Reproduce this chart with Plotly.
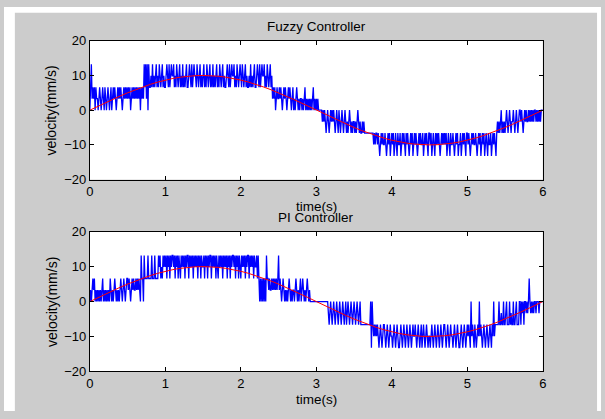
import plotly.graph_objects as go

# ---------------- data ----------------
# time step of the measured (quantised) velocity samples, seconds
SAMPLE_DT = 0.01
# quantisation step of the measured velocity, mm/s
LEVEL_STEP = 3.3
# level codes: '8'=+4 steps ... '4'=0 ... '0'=-4 steps
# each group of 10 codes covers 0.1 s
FUZZY_LEVELS = (
    "4685656465" "5456545654" "6545654564" "5656545656" "5654565656"   # 0.0-0.5
    "5656456565" "6565656465" "6586858486"                              # 0.5-0.8
    "6768676786" "7687678676" "6787686787" "7867687678"                 # 0.8-1.2
    "6768676786" "6787686787" "7687678676" "7867687678"                 # 1.2-1.6
    "6768676786" "7687678676" "6787686787" "7867687678"                 # 1.6-2.0
    "7687678676" "6768676786" "6787686787" "7867687678"                 # 2.0-2.4
    "6756564565" "5656545656" "5456565456" "4545654545"                 # 2.4-2.8
    "5454564545" "4545456454" "5454444434"                              # 2.8-3.1
    "3432343234" "3434323432" "4323432343" "2323432323"                 # 3.1-3.5
    "3232343232" "2323222222" "2222221212"                              # 3.5-3.8
    "2121012121" "1210121201" "2120121021" "1201212102"                 # 3.8-4.2
    "1210121201" "2121012121" "1201212102" "2120121021"                 # 4.2-4.6
    "2121012121" "2120121021" "1210121201" "1201212102"                 # 4.6-5.0
    "2121012121" "1210121201" "2120121021" "1201212102"                 # 5.0-5.4
    "3232342323" "2343234323" "3432343234" "4343234343"                 # 5.4-5.8
    "3434343434" "4343434344" "4"                                       # 5.8-6.0
)
PI_LEVELS = (
    "4545656454" "5454545645" "4545454654" "5456545454" "5654565456"   # 0.0-0.5
    "6565456565" "5656565486" "6486666866" "6686668666" "6878676878"   # 0.5-1.0
    "7868786878" "8786878687" "6878786878" "8687878687"                 # 1.0-1.4
    "8786878687" "7868786878" "8687878687" "6878786878"                 # 1.4-1.8
    "7868786878" "8786878687" "6878786878" "8687878687"                 # 1.8-2.2
    "7868646464" "6464866565" "5656565656" "8565456545"                 # 2.2-2.6
    "4545654545" "5456545456" "4565454565" "4544444444"                 # 2.6-3.0
    "4444444444" "4444443234" "3234323432" "3432343234"                 # 3.0-3.4
    "2343234323" "4323432342" "2222222222" "2240421212"                 # 3.4-3.8
    "1210121012" "2101210121" "1012101210" "0121012101"                 # 3.8-4.2
    "2101210121" "1210121012" "0121012101" "1012101210"                 # 4.2-4.6
    "1210121012" "2101210121" "1012101210" "0121012101"                 # 4.6-5.0
    "2121041210" "2101214121" "0121012101" "2102141222"                 # 5.0-5.4
    "2242232242" "2342224232" "2422342224" "4243424434"                 # 5.4-5.8
    "3464343434" "4344434444" "4"                                       # 5.8-6.0
)
# smooth (red) velocity, sampled every 0.1 s from 0 to 6 s
RED_T = [round(0.1 * i, 1) for i in range(61)]
RED_V = [0, 1.05, 2.08, 3.09, 4.07, 5.0, 5.88, 6.69, 7.43, 8.09, 8.66,
         9.14, 9.51, 9.78, 9.95, 10.0, 9.95, 9.78, 9.51, 9.14, 8.66,
         8.09, 7.43, 6.69, 5.88, 5.0, 4.07, 3.09, 2.08, 1.05, 0,
         -1.05, -2.08, -3.09, -4.07, -5.0, -5.88, -6.69, -7.43, -8.09, -8.66,
         -9.14, -9.51, -9.78, -9.95, -10.0, -9.95, -9.78, -9.51, -9.14, -8.66,
         -8.09, -7.43, -6.69, -5.88, -5.0, -4.07, -3.09, -2.08, -1.05, 0]
X_TICKS = [0, 1, 2, 3, 4, 5, 6]
Y_TICKS = [-20, -10, 0, 10, 20]
TITLES = ["Fuzzy Controller", "PI Controller"]
X_LABEL = "time(s)"
Y_LABEL = "velocity(mm/s)"


def decode(levels):
    v = [(int(c) - 4) * LEVEL_STEP for c in levels]
    t = [min(round(i * SAMPLE_DT, 4), 6.0) for i in range(len(v))]
    return t, v


W, H = 605, 419
FONT = "Liberation Sans, Arial, sans-serif"
GREY = "#cccccc"

fig = go.Figure()

for k, levels in enumerate([FUZZY_LEVELS, PI_LEVELS]):
    t, v = decode(levels)
    sfx = "" if k == 0 else "2"
    fig.add_trace(go.Scatter(x=t, y=v, mode="lines",
                             line=dict(color="#0000ff", width=1.3, simplify=False),
                             xaxis="x" + sfx, yaxis="y" + sfx, showlegend=False, hoverinfo="skip"))
    fig.add_trace(go.Scatter(x=RED_T, y=RED_V, mode="lines", line=dict(color="#ff0000", width=1),
                             xaxis="x" + sfx, yaxis="y" + sfx, showlegend=False, hoverinfo="skip"))

# pixel geometry of the two axes boxes
xl, xr = 87, 546
boxes = [(35, 179), (233, 378)]
xdom = [xl / W, xr / W]

axis_common = dict(showgrid=False, zeroline=False, showline=True, linecolor="black", linewidth=1,
                   mirror="ticks", ticks="inside", ticklen=4, tickcolor="black", tickwidth=1,
                   tickfont=dict(family=FONT, size=13, color="black"))

layout = dict(width=W, height=H, margin=dict(l=0, r=0, t=0, b=0, pad=0),
              paper_bgcolor=GREY, plot_bgcolor="white", showlegend=False)

for k, (yt, yb) in enumerate(boxes):
    sfx = "" if k == 0 else "2"
    ydom = [1 - yb / H, 1 - yt / H]
    layout["xaxis" + sfx] = dict(axis_common, domain=xdom, range=[0, 6], tickvals=X_TICKS,
                                 anchor="y" + sfx)
    layout["yaxis" + sfx] = dict(axis_common, domain=ydom, range=[-20, 20], tickvals=Y_TICKS,
                                 anchor="x" + sfx)

fig.update_layout(**layout)

ann = []
cx = (xl + xr) / 2 / W
title_y = [20, 218]
xlab_y = [207, 407]
for k, (yt, yb) in enumerate(boxes):
    ann.append(dict(text=TITLES[k], x=cx, y=1 - title_y[k] / H, xref="paper", yref="paper",
                    showarrow=False, xanchor="center", yanchor="middle",
                    font=dict(family=FONT, size=13.5, color="black")))
    ann.append(dict(text=X_LABEL, x=cx, y=1 - xlab_y[k] / H, xref="paper", yref="paper",
                    showarrow=False, xanchor="center", yanchor="middle",
                    font=dict(family=FONT, size=13.5, color="black")))
    ann.append(dict(text=Y_LABEL, x=48 / W, y=1 - (yt + yb) / 2 / H, xref="paper", yref="paper",
                    showarrow=False, xanchor="center", yanchor="middle", textangle=-90,
                    font=dict(family=FONT, size=14, color="black")))
fig.update_layout(annotations=ann)

# white strips at the left, top and right edges of the picture
fig.add_shape(type="rect", xref="paper", yref="paper", x0=0, x1=11 / W, y0=0, y1=1,
              fillcolor="white", line_width=0, layer="below")
fig.add_shape(type="rect", xref="paper", yref="paper", x0=0, x1=1, y0=1 - 6 / H, y1=1,
              fillcolor="white", line_width=0, layer="below")
fig.add_shape(type="rect", xref="paper", yref="paper", x0=601 / W, x1=1, y0=0, y1=1,
              fillcolor="white", line_width=0, layer="below")

fig.write_html("out.html", config={"displayModeBar": False})
